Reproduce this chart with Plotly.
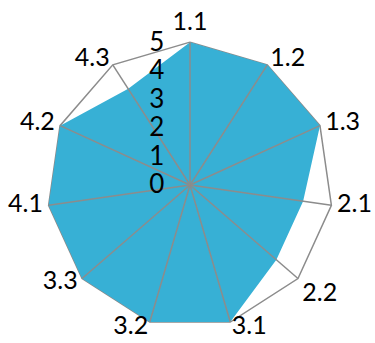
import plotly.graph_objects as go

categories = ["1.1", "1.2", "1.3", "2.1", "2.2", "3.1", "3.2", "3.3", "4.1", "4.2", "4.3"]
values = [5, 5, 5, 4, 4, 5, 5, 5, 5, 5, 4]
radial_ticks = [0, 1, 2, 3, 4, 5]
r_max = 5
r_range_max = 5.25
label_r = 5.2
label_positions = ["top center", "middle right", "middle right", "middle right", "bottom right",
                   "middle right", "middle left", "middle left", "middle left", "middle left", "middle left"]

grid_color = "#8C8C8C"
fig = go.Figure()
# outer polygon (grid at r_max)
fig.add_trace(go.Scatterpolar(
    r=[r_max] * (len(categories) + 1),
    theta=categories + categories[:1],
    mode="lines",
    line=dict(color=grid_color, width=1.5),
    hoverinfo="skip",
    showlegend=False,
))
fig.add_trace(go.Scatterpolar(
    r=values + values[:1],
    theta=categories + categories[:1],
    mode="lines",
    fill="toself",
    fillcolor="#37B0D5",
    line=dict(color="#37B0D5", width=0),
    hoverinfo="skip",
    showlegend=False,
))
for c in categories:
    fig.add_trace(go.Scatterpolar(
        r=[0, r_max],
        theta=[c, c],
        mode="lines",
        line=dict(color=grid_color, width=1.5),
        hoverinfo="skip",
        showlegend=False,
    ))
fig.add_trace(go.Scatterpolar(
    r=[label_r] * len(categories),
    theta=categories,
    mode="text",
    text=categories,
    textposition=label_positions,
    textfont=dict(size=25, color="black", family="Lato, Open Sans, sans-serif"),
    cliponaxis=False,
    hoverinfo="skip",
    showlegend=False,
))

fig.update_layout(
    width=375, height=343,
    margin=dict(l=0, r=0, t=0, b=0),
    paper_bgcolor="white",
    plot_bgcolor="white",
    font=dict(family="Lato, Open Sans, sans-serif", color="black"),
    polar=dict(
        domain=dict(x=[0.1067, 0.9067], y=[0.0233, 0.898]),
        bgcolor="rgba(0,0,0,0)",
        gridshape="linear",
        angularaxis=dict(
            categoryorder="array",
            categoryarray=categories,
            direction="clockwise",
            rotation=90,
            showgrid=False,
            showline=False,
            ticks="",
            showticklabels=False,
        ),
        radialaxis=dict(
            range=[0, r_range_max],
            tickvals=radial_ticks,
            angle=90,
            tickangle=90,
            side="counterclockwise",
            showgrid=False,
            showline=False,
            ticks="outside",
            ticklen=16,
            tickcolor="rgba(0,0,0,0)",
            tickfont=dict(size=26, color="black", family="Lato, Open Sans, sans-serif"),
        ),
    ),
)

fig.write_html("out.html")
